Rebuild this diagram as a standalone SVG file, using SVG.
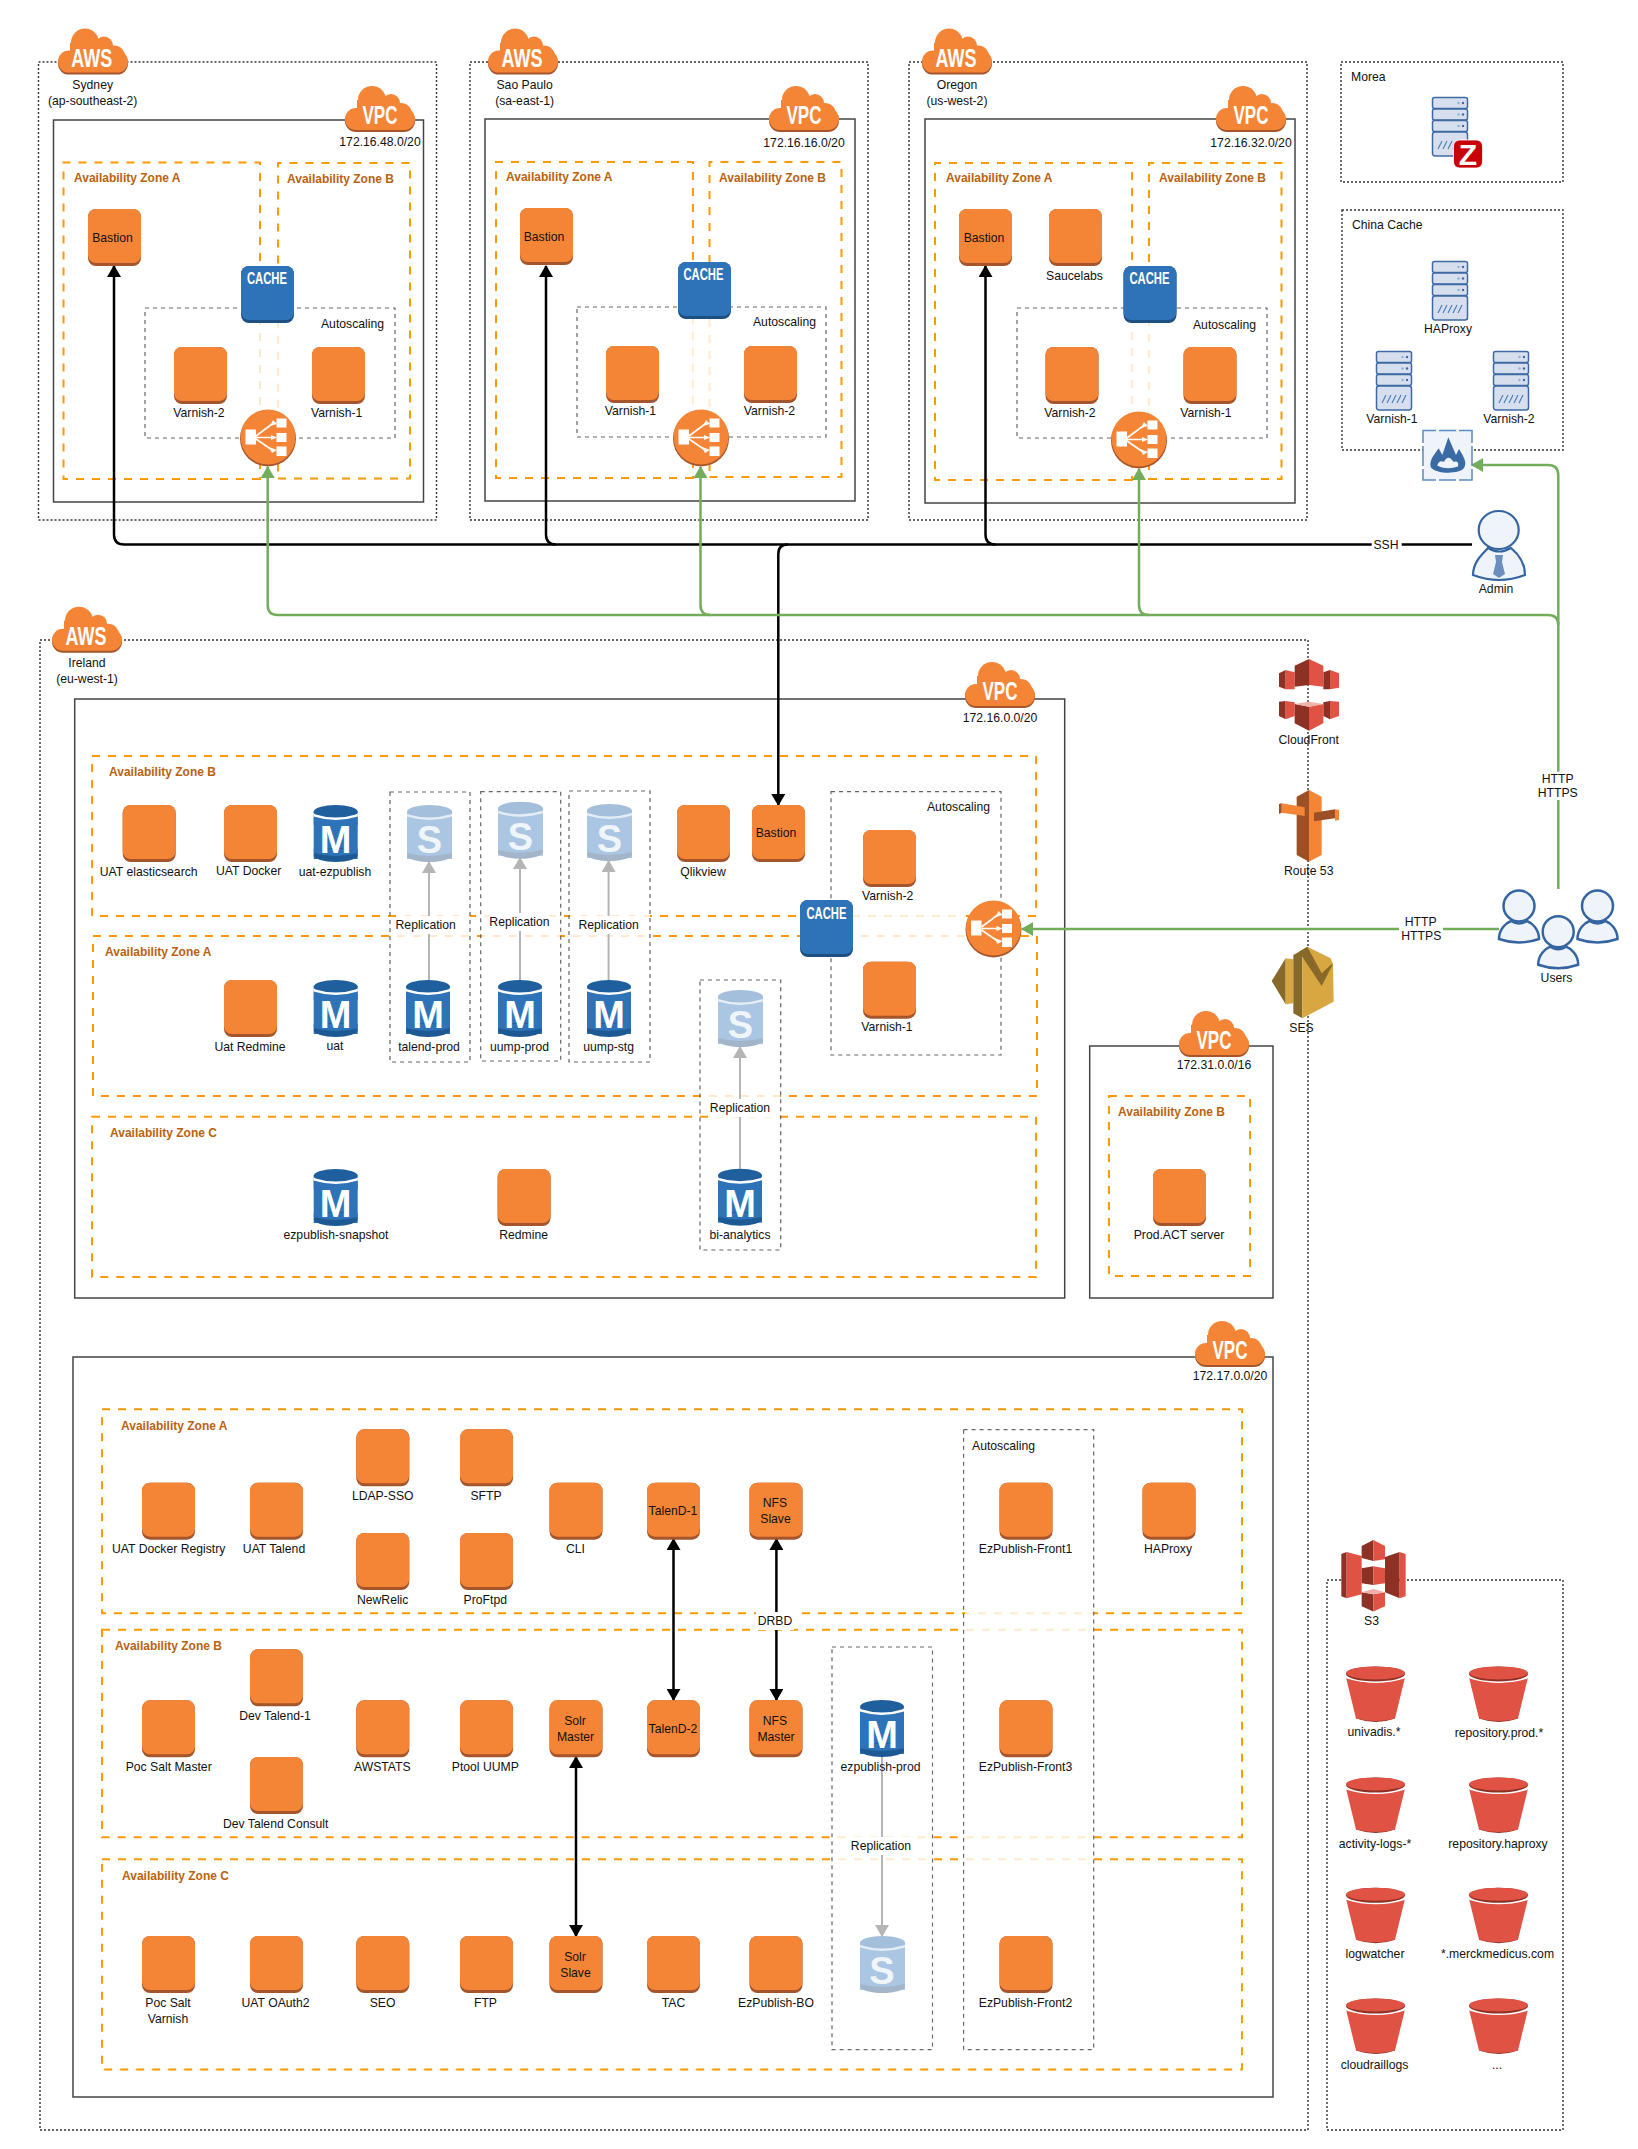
<svg xmlns="http://www.w3.org/2000/svg" width="1638" height="2149" viewBox="0 0 1638 2149">
<style>
text{font-family:"Liberation Sans",Arial,sans-serif;fill:#111;dominant-baseline:central}
.t{font-size:12.2px;text-anchor:middle}
.l{font-size:12.2px}
.e{font-size:12.2px;text-anchor:end}
.z{font-size:12px;font-weight:bold;fill:#b9630f}
.n{font-size:25px;font-weight:bold;fill:#fff;text-anchor:middle}
.c{font-size:16px;font-weight:bold;fill:#fff;text-anchor:middle}
.m{font-size:38px;font-weight:bold;fill:#fff;text-anchor:middle}
.s{font-size:38px;font-weight:bold;fill:#f0f5fa;text-anchor:middle}
.region{fill:none;stroke:#333;stroke-width:1.4;stroke-dasharray:2 2}
.vpc{fill:none;stroke:#444;stroke-width:1.5}
.az{fill:none;stroke:#f90;stroke-width:2;stroke-dasharray:8 8}
.as{fill:none;stroke:#666;stroke-width:1.2;stroke-dasharray:4 4}
.fade{fill:#fff;opacity:.8}
.bk{fill:none;stroke:#000;stroke-width:2.5}
.gr{fill:none;stroke:#73ad5b;stroke-width:2.5}
.gy{fill:none;stroke:#b5b5b5;stroke-width:2;marker-end:url(#ag)}
.lb{fill:#fff}
</style>
<defs>
<marker id="ak" viewBox="0 0 12 14" refX="11" refY="7" markerWidth="12" markerHeight="14" markerUnits="userSpaceOnUse" orient="auto-start-reverse"><path d="M0,0L12,7L0,14Z" fill="#000"/></marker>
<marker id="ae" viewBox="0 0 12 14" refX="11" refY="7" markerWidth="12" markerHeight="14" markerUnits="userSpaceOnUse" orient="auto"><path d="M0,0L12,7L0,14Z" fill="#73ad5b"/></marker>
<marker id="ag" viewBox="0 0 12 14" refX="11" refY="7" markerWidth="12" markerHeight="14" markerUnits="userSpaceOnUse" orient="auto"><path d="M0,0L12,7L0,14Z" fill="#b5b5b5"/></marker>
<symbol id="ec2" width="53" height="57" overflow="visible"><rect width="53" height="57" rx="8" fill="#a5552b"/><rect width="53" height="54" rx="8" fill="#f58536"/></symbol>
<symbol id="cachei" width="53" height="57" overflow="visible"><rect width="53" height="57" rx="8" fill="#1d4f80"/><rect width="53" height="54" rx="8" fill="#2e73b8"/></symbol>
<symbol id="cloud" width="70" height="46" overflow="visible"><g fill="#a5552b"><rect y="24" width="70" height="22" rx="11"/></g><g fill="#f58536"><rect y="22" width="70" height="22" rx="11"/><circle cx="27" cy="14" r="14"/><circle cx="46" cy="17" r="9"/><circle cx="56" cy="28" r="11"/><rect x="12" y="14" width="40" height="20"/></g></symbol>
<symbol id="elb" width="56" height="58" overflow="visible"><circle cx="28" cy="29.5" r="28" fill="#a5552b"/><circle cx="28" cy="28" r="27.5" fill="#f58536"/><g fill="#fff"><rect x="5.5" y="20.5" width="10.5" height="15"/><rect x="36.5" y="9.5" width="10" height="9"/><rect x="36.5" y="24" width="10" height="9"/><rect x="36.5" y="37.5" width="10" height="9.5"/><path d="M33,11L37,15L30,17ZM31,26L37,28.500L31,31ZM29,38L37,41L32,44Z"/></g><path d="M16,27L32,15M16,28.500H32M16,30L32,41" stroke="#fff" stroke-width="1.600" fill="none"/></symbol>
<symbol id="dbm" width="45" height="57" overflow="visible"><rect y="6" width="44" height="48" fill="#2e73b8"/><ellipse cx="22" cy="50" rx="22" ry="7" fill="#1d5a94"/><path d="M0,48Q22,54 44,48V44H0Z" fill="#2e73b8"/><ellipse cx="22" cy="8.500" rx="22" ry="8.500" fill="#fff"/><ellipse cx="22" cy="7" rx="22" ry="7" fill="#1f5f9e"/><path d="M0,9Q22,16 44,9V13Q22,20 0,13Z" fill="#fff"/><path d="M0,11.500Q22,18.500 44,11.500V20H0Z" fill="#2e73b8"/></symbol>
<symbol id="dbs" width="45" height="57" overflow="visible"><rect y="6" width="45" height="48" fill="#abc6e2"/><ellipse cx="22.500" cy="50" rx="22.500" ry="7" fill="#a3b5c9"/><path d="M0,48Q22,54 45,48V44H0Z" fill="#abc6e2"/><ellipse cx="22.500" cy="7" rx="22.500" ry="7" fill="#a3bfdb"/><path d="M0,9Q22,16 45,9V13Q22,20 0,13Z" fill="#e4edf6"/><path d="M0,11.500Q22,18.500 45,11.500V20H0Z" fill="#abc6e2"/></symbol>
<symbol id="server" width="36" height="60" overflow="visible"><g fill="#d7dfee" stroke="#3e6aa3" stroke-width="1.500"><rect x=".5" y=".5" width="35" height="11" rx="2"/><rect x=".5" y="12" width="35" height="11" rx="2"/><rect x=".5" y="23.500" width="35" height="11" rx="2"/><rect x=".5" y="35" width="35" height="24" rx="2.500"/></g><g fill="#3e6aa3"><circle cx="31" cy="6" r="1.200"/><circle cx="31" cy="17.500" r="1.200"/><circle cx="31" cy="29" r="1.200"/></g><g fill="#96aed0"><circle cx="26.500" cy="6" r="1.200"/><circle cx="26.500" cy="17.500" r="1.200"/><circle cx="26.500" cy="29" r="1.200"/></g><path d="M6,52L10,44M11,52L15,44M16,52L20,44M21,52L25,44M26,52L30,44" stroke="#4a78b2" stroke-width="1.100" fill="none"/></symbol>
<symbol id="user" width="40" height="60" overflow="visible"><path d="M-20,33C-20,23 -13,17 -8,15Q0,20 8,15C13,17 20,23 20,33Q0,40 -20,33Z" fill="#eff3fa" stroke="#3565a1" stroke-width="2.500"/><circle r="15.500" fill="#eff3fa" stroke="#3565a1" stroke-width="2.500"/></symbol>
<symbol id="bucket" width="60" height="57" overflow="visible"><path d="M10,52Q30,59 49,52L49,49H10Z" fill="#8c3123"/><path d="M0,11Q30,21 59,11L49,52Q30,57 10,52Z" fill="#e05243"/><path d="M0,11Q30,20 59,11" fill="none" stroke="#fff" stroke-width="2"/><ellipse cx="29.500" cy="7.500" rx="29.500" ry="7.500" fill="#8c3123"/><ellipse cx="29.500" cy="6.500" rx="29.500" ry="6.500" fill="#e05243"/></symbol>
</defs>

<g id="containers">
<rect class="region" x="38.500" y="62" width="398" height="458"/>
<rect class="vpc" x="53.500" y="120" width="370" height="382"/>
<path class="az" d="M260,479H63.500V162.500H260Z"/>
<path class="az" d="M278,478.500H410V163H278Z"/>
<rect class="fade" x="255" y="320" width="28" height="92"/>
<rect class="as" x="145" y="308" width="250" height="130"/>

<rect class="region" x="470" y="62" width="398" height="458"/>
<rect class="vpc" x="485" y="119" width="370" height="382"/>
<path class="az" d="M693,478H496V162H693Z"/>
<path class="az" d="M709.500,477H841.500V162H709.500Z"/>
<rect class="fade" x="688" y="316" width="27" height="96"/>
<rect class="as" x="577" y="307" width="249" height="130"/>

<rect class="region" x="909" y="62" width="398" height="458"/>
<rect class="vpc" x="925" y="119" width="370" height="384"/>
<path class="az" d="M1132,480H935V163H1132Z"/>
<path class="az" d="M1149,479H1281.500V163H1149Z"/>
<rect class="fade" x="1127" y="320" width="27" height="93"/>
<rect class="as" x="1017" y="308" width="250" height="130"/>

<rect class="region" x="1341" y="62" width="222" height="120"/>
<rect class="region" x="1342" y="210" width="221" height="240"/>
<rect class="region" x="1327" y="1580" width="236" height="550"/>

<rect class="region" x="40" y="640" width="1268" height="1490"/>
<rect class="vpc" x="74.700" y="699" width="990" height="599"/>
<rect class="az" x="92" y="756" width="944" height="160"/>
<rect class="az" x="93" y="936" width="944" height="160"/>
<rect class="az" x="92" y="1116.700" width="944" height="160.300"/>
<rect class="fade" x="853" y="908" width="113" height="36"/>
<rect class="fade" x="396" y="908" width="74" height="36"/>
<rect class="fade" x="482" y="908" width="78" height="36"/>
<rect class="fade" x="570" y="908" width="80" height="36"/>
<rect class="fade" x="708" y="1088" width="72" height="36"/>
<rect class="as" x="390" y="792" width="80" height="270"/>
<rect class="as" x="480.700" y="791.700" width="80" height="269.300"/>
<rect class="as" x="569" y="791" width="81" height="271"/>
<rect class="as" x="700" y="980" width="80.700" height="270"/>
<rect class="as" x="831" y="791.700" width="170" height="263.300"/>

<rect class="vpc" x="1089.700" y="1046" width="183.300" height="252"/>
<rect class="az" x="1109" y="1096" width="141" height="180"/>

<rect class="vpc" x="73" y="1357" width="1200" height="740"/>
<rect class="az" x="102" y="1409.300" width="1140" height="204"/>
<rect class="az" x="102" y="1629.700" width="1140" height="207.600"/>
<rect class="az" x="102" y="1859.300" width="1140" height="210.200"/>
<rect class="fade" x="965" y="1606" width="129" height="30"/>
<rect class="fade" x="833" y="1830" width="100" height="36"/>
<rect class="fade" x="965" y="1830" width="129" height="36"/>
<rect class="as" x="832" y="1647" width="100.500" height="402.600"/>
<rect class="as" x="963.600" y="1429.700" width="130.100" height="619.900"/>
</g>

<g id="connectors">
<path class="bk" marker-end="url(#ak)" d="M1472,544.500H124Q114,544.500 114,534.500V266"/>
<path class="bk" marker-end="url(#ak)" d="M556,544.500Q546,544.500 546,534.500V266"/>
<path class="bk" marker-end="url(#ak)" d="M995.500,544.500Q985.500,544.500 985.500,534.500V266"/>
<path class="bk" marker-end="url(#ak)" d="M788,544.500Q778.300,544.500 778.300,554V805"/>
<path class="gr" marker-end="url(#ae)" d="M1558.300,889V475Q1558.300,465 1548,465H1472"/>
<path class="gr" marker-end="url(#ae)" d="M1558.300,625Q1558.300,615 1548,615H277.700Q267.700,615 267.700,605V467"/>
<path class="gr" marker-end="url(#ae)" d="M710.500,615Q700.500,615 700.500,605V467"/>
<path class="gr" marker-end="url(#ae)" d="M1149,615Q1139,615 1139,605V469"/>
<path class="gr" marker-end="url(#ae)" d="M1499,929H1022"/>
<path class="gy" d="M429,980V862"/>
<path class="gy" d="M520,980V858"/>
<path class="gy" d="M608.600,980V861"/>
<path class="gy" d="M740,1169V1047"/>
<path class="gy" d="M882,1757V1936"/>
<path class="bk" marker-start="url(#ak)" marker-end="url(#ak)" d="M673.500,1539V1700"/>
<path class="bk" marker-start="url(#ak)" marker-end="url(#ak)" d="M776.400,1539V1700"/>
<path class="bk" marker-start="url(#ak)" marker-end="url(#ak)" d="M576,1757V1936"/>
<g id="connector-labels">
<rect class="lb" x="1371.700" y="535" width="30" height="18"/><text class="t" x="1386" y="544.500">SSH</text>
<rect class="lb" x="1530" y="771.700" width="56" height="28.300"/><text class="t" x="1557.700" y="779">HTTP</text><text class="t" x="1557.700" y="793">HTTPS</text>
<rect class="lb" x="1399" y="915" width="44" height="28"/><text class="t" x="1420.700" y="922">HTTP</text><text class="t" x="1421.300" y="936">HTTPS</text>
<rect class="lb" x="396" y="916" width="66" height="18"/><text class="t" x="425.700" y="925">Replication</text>
<rect class="lb" x="490" y="913" width="60" height="18"/><text class="t" x="519.500" y="922">Replication</text>
<rect class="lb" x="578" y="916" width="60" height="18"/><text class="t" x="608.600" y="925">Replication</text>
<rect class="lb" x="708" y="1099" width="64" height="18"/><text class="t" x="740" y="1108">Replication</text>
<rect class="lb" x="850" y="1837" width="62" height="18"/><text class="t" x="881" y="1846">Replication</text>
<rect class="lb" x="756" y="1612" width="38" height="18"/><text class="t" x="775" y="1621">DRBD</text>
</g>
</g>

<g id="sydney">
<use href="#cloud" x="58" y="28.600"/><text class="n" x="91.700" y="58" textLength="41" lengthAdjust="spacingAndGlyphs">AWS</text>
<text class="t" x="92.700" y="85">Sydney</text><text class="t" x="92.700" y="101">(ap-southeast-2)</text>
<use href="#cloud" x="345" y="86"/><text class="n" x="380" y="115" textLength="35" lengthAdjust="spacingAndGlyphs">VPC</text>
<text class="t" x="380" y="142">172.16.48.0/20</text>
<text class="z" x="74" y="178">Availability Zone A</text><text class="z" x="287" y="179">Availability Zone B</text>
<text class="e" x="384" y="324">Autoscaling</text>
</g>
<g id="syd-bastion"><use href="#ec2" x="88" y="209"/><text class="t" x="112.500" y="238">Bastion</text></g>
<g id="syd-cache"><use href="#cachei" x="241" y="266"/><text class="c" x="267" y="278.600" textLength="40" lengthAdjust="spacingAndGlyphs">CACHE</text></g>
<g id="syd-varnish2"><use href="#ec2" x="174" y="347"/><text class="t" x="199" y="413">Varnish-2</text></g>
<g id="syd-varnish1"><use href="#ec2" x="312" y="347"/><text class="t" x="336.700" y="413">Varnish-1</text></g>
<g id="syd-elb"><use href="#elb" x="240" y="409"/></g>

<g id="saopaulo">
<use href="#cloud" x="488" y="28.600"/><text class="n" x="522" y="58" textLength="41" lengthAdjust="spacingAndGlyphs">AWS</text>
<text class="t" x="524.600" y="85">Sao Paulo</text><text class="t" x="524.600" y="101">(sa-east-1)</text>
<use href="#cloud" x="769" y="86"/><text class="n" x="804" y="115" textLength="35" lengthAdjust="spacingAndGlyphs">VPC</text>
<text class="t" x="804" y="142.500">172.16.16.0/20</text>
<text class="z" x="506" y="177">Availability Zone A</text><text class="z" x="719" y="178">Availability Zone B</text>
<text class="e" x="816" y="322">Autoscaling</text>
</g>
<g id="sao-bastion"><use href="#ec2" x="520" y="208"/><text class="t" x="544" y="237">Bastion</text></g>
<g id="sao-cache"><use href="#cachei" x="678" y="262"/><text class="c" x="703.500" y="274.600" textLength="40" lengthAdjust="spacingAndGlyphs">CACHE</text></g>
<g id="sao-varnish1"><use href="#ec2" x="606" y="346"/><text class="t" x="630.500" y="411">Varnish-1</text></g>
<g id="sao-varnish2"><use href="#ec2" x="744" y="346"/><text class="t" x="769.500" y="411">Varnish-2</text></g>
<g id="sao-elb"><use href="#elb" x="673" y="409"/></g>

<g id="oregon">
<use href="#cloud" x="922" y="28.600"/><text class="n" x="956" y="58" textLength="41" lengthAdjust="spacingAndGlyphs">AWS</text>
<text class="t" x="957" y="85">Oregon</text><text class="t" x="957" y="101">(us-west-2)</text>
<use href="#cloud" x="1216" y="86"/><text class="n" x="1251" y="115" textLength="35" lengthAdjust="spacingAndGlyphs">VPC</text>
<text class="t" x="1251" y="142.500">172.16.32.0/20</text>
<text class="z" x="946" y="178">Availability Zone A</text><text class="z" x="1159" y="178">Availability Zone B</text>
<text class="e" x="1256" y="325">Autoscaling</text>
</g>
<g id="ore-bastion"><use href="#ec2" x="959" y="209"/><text class="t" x="984" y="238">Bastion</text></g>
<g id="ore-saucelabs"><use href="#ec2" x="1049" y="209"/><text class="t" x="1074.500" y="275.500">Saucelabs</text></g>
<g id="ore-cache"><use href="#cachei" x="1123.500" y="266"/><text class="c" x="1149.500" y="278.600" textLength="40" lengthAdjust="spacingAndGlyphs">CACHE</text></g>
<g id="ore-varnish2"><use href="#ec2" x="1045.500" y="347"/><text class="t" x="1070" y="412.600">Varnish-2</text></g>
<g id="ore-varnish1"><use href="#ec2" x="1183.500" y="347"/><text class="t" x="1206" y="412.600">Varnish-1</text></g>
<g id="ore-elb"><use href="#elb" x="1111" y="411"/></g>

<g id="morea"><text class="l" x="1351" y="77">Morea</text><use href="#server" x="1432" y="97"/>
<rect x="1453.500" y="140" width="29" height="28" rx="6" fill="#c8000a" stroke="#fff" stroke-width=".8"/><text x="1468" y="154" font-size="30" font-weight="bold" text-anchor="middle" style="fill:#fff">Z</text></g>
<g id="china-cache"><text class="l" x="1352" y="225">China Cache</text></g>
<g id="china-haproxy"><use href="#server" x="1432" y="261"/><text class="t" x="1448" y="329">HAProxy</text></g>
<g id="china-varnish1"><use href="#server" x="1376" y="351"/><text class="t" x="1392" y="419">Varnish-1</text></g>
<g id="china-varnish2"><use href="#server" x="1493" y="351"/><text class="t" x="1509" y="419">Varnish-2</text></g>
<g id="firewall"><rect x="1423" y="430.500" width="49" height="49.500" fill="#eff3fa" stroke="#5b8ac2" stroke-width="1.500"/>
<path d="M1423,443v3M1423,466v3M1472,443v3M1472,466v3M1436,430.500h3M1456,430.500h3M1436,480h3M1456,480h3" stroke="#fff" stroke-width="2" fill="none"/>
<g transform="translate(1280,30) scale(.3333,.3954)"><path d="M452,1105C447,1085 468,1070 476,1058L487,1075L505,1030L528,1075L537,1060C552,1080 562,1095 552,1108C540,1124 465,1124 452,1105Z" fill="#3a6ba5"/><path d="M472,1102Q476,1086 492,1092Q505,1072 520,1092Q538,1088 534,1104Q502,1114 472,1102Z" fill="#eff3fa"/></g></g>
<g id="admin"><path d="M1473,575C1473,561 1484,553 1488,548Q1499,555 1511,548C1517,553 1525,562 1525,575Q1499,585 1473,575Z" fill="#eff3fa" stroke="#3565a1" stroke-width="2.200"/><ellipse cx="1498.700" cy="530" rx="20" ry="19" fill="#eff3fa" stroke="#3565a1" stroke-width="2.200"/><path d="M1495,555H1503L1502,562L1505,574L1499,578L1493,574L1496,562Z" fill="#6d8fc0"/><text class="t" x="1496" y="589">Admin</text></g>

<g id="ireland">
<use href="#cloud" x="52" y="606.700"/><text class="n" x="86" y="636" textLength="41" lengthAdjust="spacingAndGlyphs">AWS</text>
<text class="t" x="87" y="663">Ireland</text><text class="t" x="87" y="679">(eu-west-1)</text>
<use href="#cloud" x="965" y="662"/><text class="n" x="1000" y="691" textLength="35" lengthAdjust="spacingAndGlyphs">VPC</text>
<text class="t" x="1000" y="718">172.16.0.0/20</text>
<text class="z" x="109" y="772">Availability Zone B</text><text class="z" x="105" y="952">Availability Zone A</text><text class="z" x="110" y="1133">Availability Zone C</text>
<text class="e" x="990" y="807">Autoscaling</text>
</g>
<g id="uat-elasticsearch"><use href="#ec2" x="122.700" y="805"/><text class="t" x="148.700" y="872">UAT elasticsearch</text></g>
<g id="uat-docker"><use href="#ec2" x="224" y="805"/><text class="t" x="248.700" y="871">UAT Docker</text></g>
<g id="uat-ezpublish"><use href="#dbm" x="313.700" y="805"/><text class="m" x="335.700" y="840">M</text><text class="t" x="335" y="872">uat-ezpublish</text></g>
<g id="talend-s"><use href="#dbs" x="407" y="805"/><text class="s" x="429.500" y="840">S</text></g>
<g id="uump-prod-s"><use href="#dbs" x="498" y="801.700"/><text class="s" x="520.500" y="837">S</text></g>
<g id="uump-stg-s"><use href="#dbs" x="587" y="804"/><text class="s" x="609.500" y="839">S</text></g>
<g id="qlikview"><use href="#ec2" x="677" y="805"/><text class="t" x="703" y="872">Qlikview</text></g>
<g id="ire-bastion"><use href="#ec2" x="752" y="805"/><text class="t" x="776" y="833">Bastion</text></g>
<g id="ire-varnish2"><use href="#ec2" x="863" y="830"/><text class="t" x="887.700" y="896">Varnish-2</text></g>
<g id="ire-varnish1"><use href="#ec2" x="863" y="961.700"/><text class="t" x="887" y="1027">Varnish-1</text></g>
<g id="ire-cache"><use href="#cachei" x="800" y="900"/><text class="c" x="826.500" y="913" textLength="40" lengthAdjust="spacingAndGlyphs">CACHE</text></g>
<g id="ire-elb"><use href="#elb" x="965.500" y="900"/></g>
<g id="uat-redmine"><use href="#ec2" x="224" y="980"/><text class="t" x="250" y="1047">Uat Redmine</text></g>
<g id="uat"><use href="#dbm" x="313.700" y="980"/><text class="m" x="335.700" y="1015">M</text><text class="t" x="335" y="1046">uat</text></g>
<g id="talend-prod"><use href="#dbm" x="406" y="980"/><text class="m" x="428" y="1015">M</text><text class="t" x="429" y="1047">talend-prod</text></g>
<g id="uump-prod"><use href="#dbm" x="498" y="980"/><text class="m" x="520" y="1015">M</text><text class="t" x="519.500" y="1047">uump-prod</text></g>
<g id="uump-stg"><use href="#dbm" x="587" y="980"/><text class="m" x="609" y="1015">M</text><text class="t" x="608.600" y="1047">uump-stg</text></g>
<g id="bi-s"><use href="#dbs" x="718" y="990"/><text class="s" x="740.500" y="1025">S</text></g>
<g id="bi-analytics"><use href="#dbm" x="718" y="1168.700"/><text class="m" x="740" y="1203.700">M</text><text class="t" x="740" y="1235">bi-analytics</text></g>
<g id="ezpublish-snapshot"><use href="#dbm" x="313.700" y="1169"/><text class="m" x="335.700" y="1204">M</text><text class="t" x="336" y="1235">ezpublish-snapshot</text></g>
<g id="redmine"><use href="#ec2" x="497.600" y="1169"/><text class="t" x="523.600" y="1235">Redmine</text></g>

<g id="vpc-31"><use href="#cloud" x="1179" y="1011"/><text class="n" x="1214" y="1040" textLength="35" lengthAdjust="spacingAndGlyphs">VPC</text><text class="t" x="1214" y="1065">172.31.0.0/16</text><text class="z" x="1118" y="1111.500">Availability Zone B</text></g>
<g id="prod-act"><use href="#ec2" x="1153" y="1169"/><text class="t" x="1179" y="1235">Prod.ACT server</text></g>

<g id="cloudfront"><g transform="translate(1259,640) scale(.3333)">
<path d="M60,100L80,90V148L60,140ZM193,97L213,90V148L193,148ZM60,185L80,183V238L60,228ZM193,187L213,183V238L193,228Z" fill="#8c3123"/>
<path d="M80,90L107,97V148H80ZM213,90L240,100V143L213,148ZM80,183L107,187V228L80,238ZM213,183L240,185V228L213,238Z" fill="#e05243"/>
<path d="M107,77L150,57V135L107,140Z" fill="#8c3123"/><path d="M150,57L193,77V140L150,135Z" fill="#e05243"/>
<path d="M107,192L150,200V272L107,250Z" fill="#8c3123"/><path d="M150,200L193,192V250L150,272Z" fill="#e05243"/><path d="M107,192L150,185L193,192L150,200Z" fill="#f2b0a9"/></g>
<text class="t" x="1308.700" y="740">CloudFront</text></g>
<g id="route53"><g transform="translate(1259,640) scale(.3333)">
<path d="M113,470L150,450V665L113,645Z" fill="#9d5025"/><path d="M150,450L188,470V645L150,665Z" fill="#f58536"/>
<path d="M68,490L137,502V528L68,518Z" fill="#f58536"/><path d="M60,492L68,490V518L60,522Z" fill="#9d5025"/>
<path d="M165,518L228,508V535L165,544Z" fill="#9d5025"/><path d="M228,508L240,510V540L228,542Z" fill="#f58536"/></g>
<text class="t" x="1308.700" y="871">Route 53</text></g>
<g id="ses"><g transform="translate(1259,640) scale(.3333)">
<path d="M38,1023L80,955V1093Z" fill="#876929"/><path d="M80,955L103,958V1090L80,1093Z" fill="#d9a741"/>
<path d="M103,945L130,930V1135L103,1120Z" fill="#876929"/><path d="M130,930L145,920L215,955L222,972L224,1085L130,1135Z" fill="#d9a741"/>
<path d="M120,935L145,920L188,1000L215,975L222,972L188,1038Z" fill="#876929"/></g>
<text class="t" x="1301.500" y="1028">SES</text></g>
<g id="users"><use href="#user" x="1519" y="906"/><use href="#user" x="1597.500" y="906"/><use href="#user" x="1558.200" y="931.700"/><text class="t" x="1556.500" y="978">Users</text></g>

<g id="vpc-17"><use href="#cloud" x="1195" y="1321"/><text class="n" x="1230" y="1350" textLength="35" lengthAdjust="spacingAndGlyphs">VPC</text><text class="t" x="1230" y="1376">172.17.0.0/20</text>
<text class="z" x="121" y="1426">Availability Zone A</text><text class="z" x="115" y="1646">Availability Zone B</text><text class="z" x="122" y="1876">Availability Zone C</text><text class="l" x="972" y="1446">Autoscaling</text></g>
<g id="uat-docker-registry"><use href="#ec2" x="142" y="1482.700"/><text class="t" x="168.700" y="1549">UAT Docker Registry</text></g>
<g id="uat-talend"><use href="#ec2" x="250" y="1482.700"/><text class="t" x="274" y="1549">UAT Talend</text></g>
<g id="ldap-sso"><use href="#ec2" x="356.300" y="1429.300"/><text class="t" x="382.700" y="1496">LDAP-SSO</text></g>
<g id="sftp"><use href="#ec2" x="460" y="1429.300"/><text class="t" x="486" y="1496">SFTP</text></g>
<g id="newrelic"><use href="#ec2" x="356.300" y="1533"/><text class="t" x="382.700" y="1600">NewRelic</text></g>
<g id="proftpd"><use href="#ec2" x="460" y="1533"/><text class="t" x="485.300" y="1600">ProFtpd</text></g>
<g id="cli"><use href="#ec2" x="549.500" y="1482.700"/><text class="t" x="575.500" y="1549">CLI</text></g>
<g id="talend-1"><use href="#ec2" x="647" y="1482.700"/><text class="t" x="673" y="1511">TalenD-1</text></g>
<g id="nfs-slave"><use href="#ec2" x="749.500" y="1482.700"/><text class="t" x="775" y="1503">NFS</text><text class="t" x="775.500" y="1519">Slave</text></g>
<g id="ezp-front1"><use href="#ec2" x="999.500" y="1482.700"/><text class="t" x="1025.500" y="1549">EzPublish-Front1</text></g>
<g id="haproxy"><use href="#ec2" x="1142.500" y="1482.700"/><text class="t" x="1168" y="1549">HAProxy</text></g>
<g id="poc-salt-master"><use href="#ec2" x="142" y="1700.300"/><text class="t" x="168.700" y="1767">Poc Salt Master</text></g>
<g id="dev-talend-1"><use href="#ec2" x="250" y="1649.300"/><text class="t" x="275" y="1716">Dev Talend-1</text></g>
<g id="dev-talend-consult"><use href="#ec2" x="250" y="1757"/><text class="t" x="275.700" y="1824">Dev Talend Consult</text></g>
<g id="awstats"><use href="#ec2" x="356.300" y="1700.300"/><text class="t" x="382.300" y="1767">AWSTATS</text></g>
<g id="ptool-uump"><use href="#ec2" x="460" y="1700.300"/><text class="t" x="485.300" y="1767">Ptool UUMP</text></g>
<g id="solr-master"><use href="#ec2" x="549.500" y="1700.300"/><text class="t" x="575" y="1721">Solr</text><text class="t" x="575.500" y="1737">Master</text></g>
<g id="talend-2"><use href="#ec2" x="647" y="1700.300"/><text class="t" x="673" y="1729">TalenD-2</text></g>
<g id="nfs-master"><use href="#ec2" x="749.500" y="1700.300"/><text class="t" x="775" y="1721">NFS</text><text class="t" x="776" y="1737">Master</text></g>
<g id="ezpublish-prod"><use href="#dbm" x="860" y="1700"/><text class="m" x="882" y="1735">M</text><text class="t" x="880.500" y="1767">ezpublish-prod</text></g>
<g id="ezp-front3"><use href="#ec2" x="999.500" y="1700.300"/><text class="t" x="1025.500" y="1767">EzPublish-Front3</text></g>
<g id="poc-salt-varnish"><use href="#ec2" x="142" y="1936"/><text class="t" x="168" y="2003">Poc Salt</text><text class="t" x="168" y="2019">Varnish</text></g>
<g id="uat-oauth2"><use href="#ec2" x="250" y="1936"/><text class="t" x="275.500" y="2003">UAT OAuth2</text></g>
<g id="seo"><use href="#ec2" x="356.300" y="1936"/><text class="t" x="382.500" y="2003">SEO</text></g>
<g id="ftp"><use href="#ec2" x="460" y="1936"/><text class="t" x="485.500" y="2003">FTP</text></g>
<g id="solr-slave"><use href="#ec2" x="549.500" y="1936"/><text class="t" x="575" y="1957">Solr</text><text class="t" x="575.500" y="1973">Slave</text></g>
<g id="tac"><use href="#ec2" x="647" y="1936"/><text class="t" x="673.500" y="2003">TAC</text></g>
<g id="ezp-bo"><use href="#ec2" x="749.500" y="1936"/><text class="t" x="776" y="2003">EzPublish-BO</text></g>
<g id="ezp-s"><use href="#dbs" x="860" y="1936"/><text class="s" x="882" y="1971">S</text></g>
<g id="ezp-front2"><use href="#ec2" x="999.500" y="1936"/><text class="t" x="1025.500" y="2003">EzPublish-Front2</text></g>

<g id="s3"><g transform="translate(1279,1520) scale(.3333,.4011)">
<path d="M187,85L203,80V195L187,190ZM318,92L362,80V195L318,180Z" fill="#8c3123"/><path d="M203,80L248,90V185L203,195ZM362,80L380,85V190L362,195Z" fill="#e05243"/>
<path d="M248,65L283,50V102L248,95ZM248,120L283,115V162L248,158ZM248,180L283,185V228L248,215Z" fill="#8c3123"/>
<path d="M283,50L318,65V98L283,102ZM283,115L318,120V158L283,162ZM283,185L318,180V215L283,228Z" fill="#e05243"/>
<path d="M248,180L283,172L318,180L283,185Z" fill="#f2b0a9"/></g>
<text class="t" x="1371.500" y="1620.700">S3</text></g>
<g id="b-univadis"><use href="#bucket" x="1346" y="1666.400"/><text class="t" x="1374" y="1732">univadis.*</text></g>
<g id="b-repo-prod"><use href="#bucket" x="1469" y="1666.400"/><text class="t" x="1499" y="1733">repository.prod.*</text></g>
<g id="b-activity"><use href="#bucket" x="1346" y="1777.500"/><text class="t" x="1375" y="1844">activity-logs-*</text></g>
<g id="b-repo-haproxy"><use href="#bucket" x="1469" y="1777.500"/><text class="t" x="1498" y="1844">repository.haproxy</text></g>
<g id="b-logwatcher"><use href="#bucket" x="1346" y="1887.800"/><text class="t" x="1375" y="1954">logwatcher</text></g>
<g id="b-merck"><use href="#bucket" x="1469" y="1887.800"/><text class="t" x="1497.500" y="1954">*.merckmedicus.com</text></g>
<g id="b-cloudrail"><use href="#bucket" x="1346" y="1998.500"/><text class="t" x="1374.500" y="2065">cloudraillogs</text></g>
<g id="b-more"><use href="#bucket" x="1469" y="1998.500"/><text class="t" x="1497" y="2065">...</text></g>
</svg>
